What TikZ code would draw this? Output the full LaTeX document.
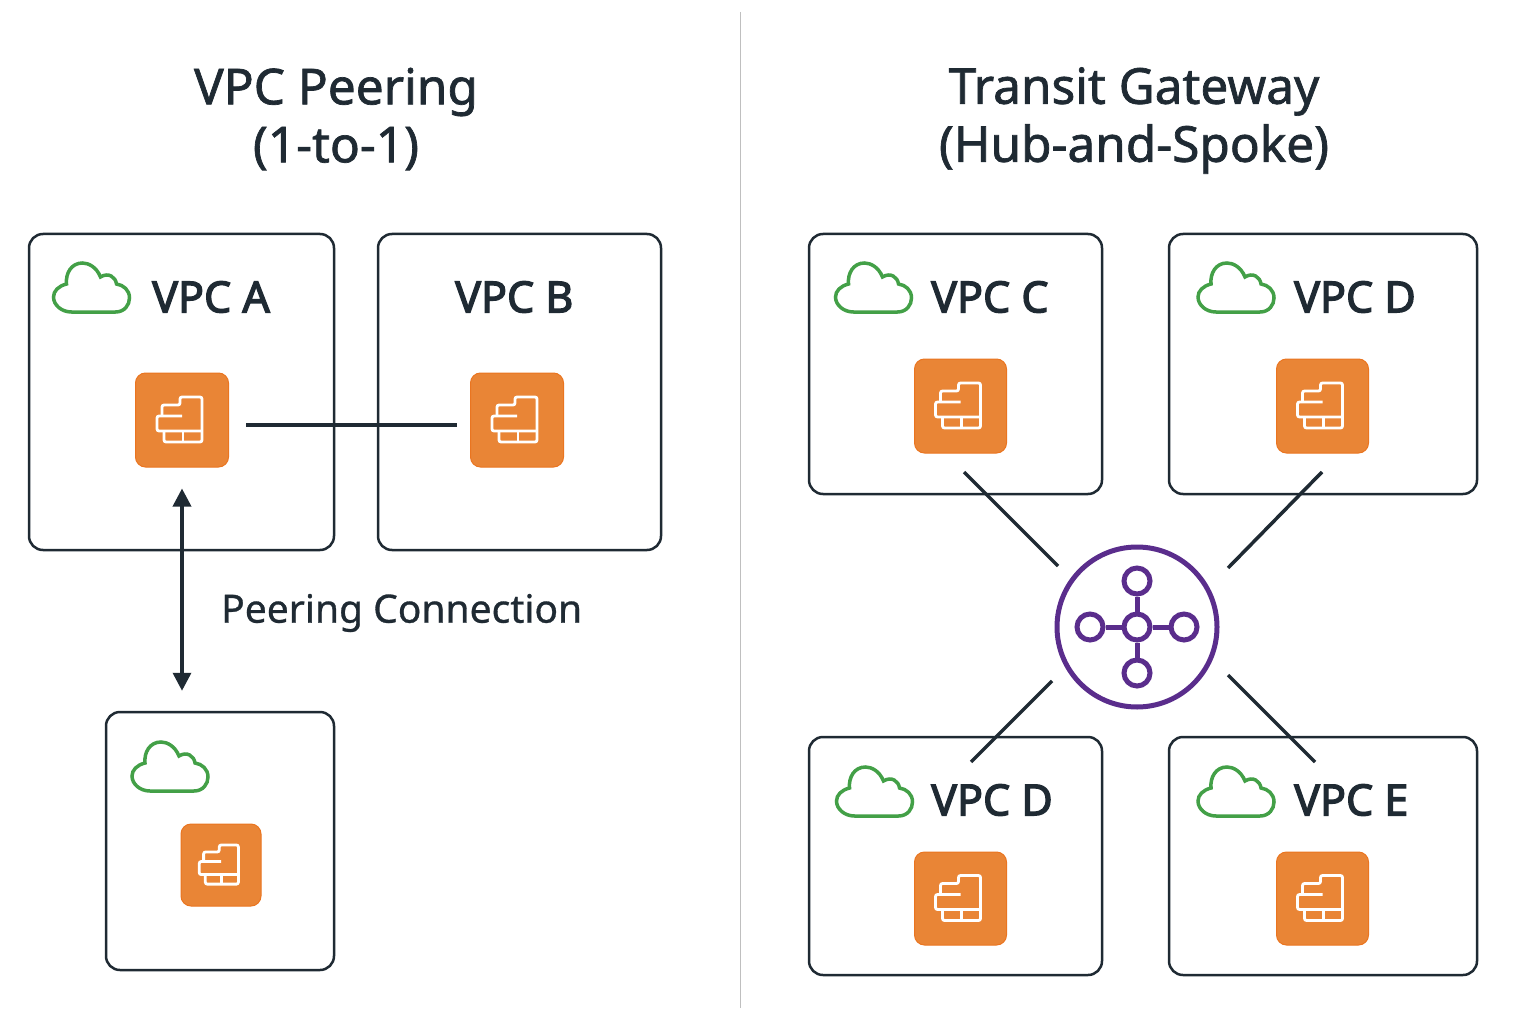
\documentclass[tikz,border=0pt]{standalone}
\usepackage{fontspec}
\setmainfont{Noto Sans}
\usetikzlibrary{arrows.meta}
\definecolor{ink}{HTML}{1F2A33}
\definecolor{leaf}{HTML}{43A047}
\definecolor{amber}{HTML}{E98536}
\definecolor{amberline}{HTML}{EA7520}
\definecolor{grape}{HTML}{5A2D8C}
\def\heavy#1{\special{pdf:code 2 Tr #1 w}}
\tikzset{
  vpcbox/.style={
    rectangle,
    draw=ink,
    fill=white,
    line width=2.5pt,
    rounded corners=14pt,
    inner sep=0pt
  },
  srvbox/.style={
    rectangle,
    draw=amberline,
    fill=amber,
    line width=1pt,
    rounded corners=10pt,
    inner sep=0pt
  },
  headtext/.style={
    text=ink,
    align=center,
    font=\fontsize{49.5}{58}\selectfont\heavy{0.7}
  },
  vpctext/.style={
    text=ink,
    anchor=west,
    inner sep=0pt,
    font=\fontsize{43}{50}\selectfont\heavy{1.3}
  },
  hubdot/.style={
    circle,
    draw=grape,
    fill=white,
    line width=5pt,
    inner sep=0pt,
    minimum size=26pt
  },
  spoke/.style={draw=grape, line width=5pt},
  link/.style={draw=ink, line width=3.5pt},
  cloudicon/.pic={
    \draw[leaf, line width=3.5pt]
      (-20,24) -- (24,24) .. controls (33,24) and (38,17) .. (38,10)
      .. controls (38,2) and (32,-3) .. (25,-4)
      .. controls (24,-11) and (17,-16) .. (9,-11)
      .. controls (5,-21) and (-3,-25) .. (-9,-25)
      .. controls (-20,-25) and (-26,-15) .. (-25,-4)
      .. controls (-33,-2) and (-38,3) .. (-38,9)
      .. controls (-38,17) and (-30,24) .. (-20,24) -- cycle;
  },
  srvicon/.pic={
    \draw[white, line width=2.8pt, rounded corners=2pt]
      (-18,12) -- (-18,22) -- (20,22) -- (20,-23) -- (-2,-23) -- (-2,-15) -- (-20,-15) -- (-20,-4);
    \draw[white, line width=2.8pt, rounded corners=2pt]
      (0,-4) -- (-25,-4) -- (-25,11) -- (20,11);
    \draw[white, line width=2.8pt] (1,11) -- (1,22);
  }
}

\begin{document}
\begin{tikzpicture}[x=1pt, y=-1pt]
  \useasboundingbox (0,0) rectangle (1536,1024);
  \draw[draw=black!25, line width=1pt] (740.5,12) -- (740.5,1008);

  \node[headtext] (titlepeer) at (336,119) {VPC Peering\\(1-to-1)};
  \node[headtext] (titletgw) at (1134,120.5) {Transit Gateway\\(Hub-and-Spoke)};

  % left side
  \node[vpcbox, minimum width=305pt, minimum height=316pt] (vpca) at (181.5,392) {};
  \node[vpcbox, minimum width=283pt, minimum height=316pt] (vpcb) at (519.5,392) {};
  \node[vpcbox, minimum width=228pt, minimum height=258pt] (vpcx) at (220,841) {};
  \node[srvbox, minimum width=93pt, minimum height=94pt] (srva) at (182,420) {};
  \node[srvbox, minimum width=93pt, minimum height=94pt] (srvb) at (517,420) {};
  \node[srvbox, minimum width=80pt, minimum height=82pt] (srvx) at (221,865) {};
  \pic at (182,420) {srvicon};
  \pic at (517,420) {srvicon};
  \pic[scale=0.87] at (221,865) {srvicon};
  \pic at (91.5,288) {cloudicon};
  \pic at (170,767) {cloudicon};
  \node[vpctext] (labela) at (152,297) {VPC A};
  \node[vpctext] (labelb) at (455,297) {VPC B};
  \draw[link, shorten <=17pt, shorten >=13pt] ([yshift=-5pt]srva.east) -- ([yshift=-5pt]srvb.west);
  \draw[link, {Triangle[length=18pt,width=18pt]}-{Triangle[length=18pt,width=18pt]}, shorten <=21pt, shorten >=20pt]
    (srva.south) -- (srva.south |- vpcx.north);
  \node[text=ink, anchor=west, inner sep=0pt, font=\fontsize{39}{46}\selectfont\heavy{0.3}] (peerlabel) at (221,613) {Peering Connection};

  % right side
  \node[vpcbox, minimum width=293pt, minimum height=260pt] (vpcc) at (955.5,364) {};
  \node[vpcbox, minimum width=308pt, minimum height=260pt] (vpcd) at (1323,364) {};
  \node[vpcbox, minimum width=293pt, minimum height=238pt] (vpcf) at (955.5,856) {};
  \node[vpcbox, minimum width=308pt, minimum height=238pt] (vpce) at (1323,856) {};
  \node[srvbox, minimum width=92pt, minimum height=94pt] (srvc) at (960.5,406) {};
  \node[srvbox, minimum width=92pt, minimum height=94pt] (srvd) at (1322.5,406) {};
  \node[srvbox, minimum width=92pt, minimum height=93pt] (srvf) at (960.5,898.5) {};
  \node[srvbox, minimum width=92pt, minimum height=93pt] (srve) at (1322.5,898.5) {};
  \pic at (960.5,406) {srvicon};
  \pic at (1322.5,406) {srvicon};
  \pic at (960.5,898.5) {srvicon};
  \pic at (1322.5,898.5) {srvicon};
  \pic at (873.5,288) {cloudicon};
  \pic at (1236,288) {cloudicon};
  \pic at (874.5,792) {cloudicon};
  \pic at (1236,792) {cloudicon};
  \node[vpctext] (labelc) at (931,297) {VPC C};
  \node[vpctext] (labeld) at (1294,297) {VPC D};
  \node[vpctext] (labelf) at (931,800) {VPC D};
  \node[vpctext] (labele) at (1294,800) {VPC E};

  % hub
  \node[circle, draw=grape, fill=white, line width=5pt, inner sep=0pt, minimum size=160pt] (hub) at (1137,627) {};
  \node[hubdot] (hubtop) at (1137,581) {};
  \node[hubdot] (hubleft) at (1090,627) {};
  \node[hubdot] (hubright) at (1184,627) {};
  \node[hubdot] (hubbottom) at (1137,673) {};
  \node[hubdot] (hubmid) at (1137,627) {};
  \draw[spoke] (hubmid) -- (hubtop);
  \draw[spoke] (hubmid) -- (hubleft);
  \draw[spoke] (hubmid) -- (hubright);
  \draw[spoke] (hubmid) -- (hubbottom);

  \coordinate (linkc) at (964,472);
  \coordinate (linkcend) at (1058,566);
  \coordinate (linkd) at (1322,472);
  \coordinate (linkdend) at (1228,568);
  \coordinate (linkf) at (971,762);
  \coordinate (linkfend) at (1052,681);
  \coordinate (linke) at (1315,762);
  \coordinate (linkeend) at (1228,675);
  \draw[link] (linkc) -- (linkcend);
  \draw[link] (linkd) -- (linkdend);
  \draw[link] (linkf) -- (linkfend);
  \draw[link] (linke) -- (linkeend);
\end{tikzpicture}
\end{document}
